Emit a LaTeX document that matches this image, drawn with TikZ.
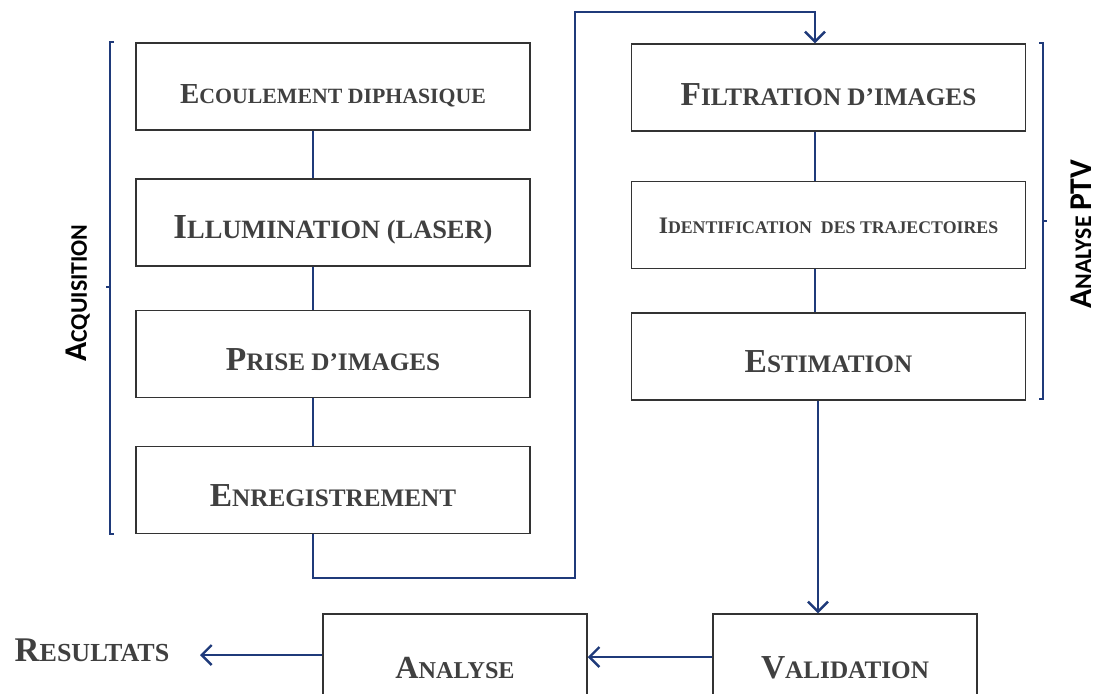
\documentclass[tikz,border=0pt]{standalone}
\usepackage{fontspec}
\setmainfont{Liberation Serif}
\newfontfamily\calibri{Carlito}
\usetikzlibrary{arrows.meta}

\definecolor{bleu}{HTML}{1F3A7A}
\definecolor{texte}{HTML}{404040}
\newcommand\Init[1]{\scalebox{1.33}{#1}}

\tikzset{
  etape/.style={draw=black!80, line width=0.75pt, fill=white, minimum width=197pt,
    minimum height=43.5pt, inner sep=0pt, text=texte, text height=16pt, text depth=0pt,
    font=\bfseries\fontsize{12.6}{15}\selectfont},
  bas/.style={etape, minimum width=132pt, minimum height=53pt, text height=11pt},
  lien/.style={draw=bleu, line width=1.2pt},
  fleche/.style={lien, -{Straight Barb[length=5pt,width=10pt]}},
  accolade/.style={draw=bleu, line width=0.9pt},
  bloc/.style={text=black, inner sep=0pt, font=\calibri\bfseries\fontsize{11.9}{14}\selectfont, rotate=90}
}

\begin{document}
\begin{tikzpicture}[x=0.5pt, y=-0.5pt]
    \useasboundingbox (0,0) rectangle (1100,693);

    % acquisition
    \node[etape, text height=17pt, font=\bfseries\fontsize{10.9}{13}\selectfont] (ecoulement) at (333,86.5) {\Init{E}COULEMENT DIPHASIQUE};
    \node[etape, font=\bfseries\fontsize{13.2}{15}\selectfont] (illumination) at (333,222.5) {\Init{I}LLUMINATION (LASER)};
    \node[etape] (prise) at (333,354) {\Init{P}RISE D’IMAGES};
    \node[etape] (enregistrement) at (333,490) {\Init{E}NREGISTREMENT};

    \draw[lien] ([xshift=-10pt]ecoulement.south) -- ([xshift=-10pt]illumination.north);
    \draw[lien] ([xshift=-10pt]illumination.south) -- ([xshift=-10pt]prise.north);
    \draw[lien] ([xshift=-10pt]prise.south) -- ([xshift=-10pt]enregistrement.north);

    \draw[accolade] (114,42) -- (110,42) -- (110,534) -- (114,534);
    \draw[accolade] (110,287) -- (106,287);
    \node[bloc] (acquisition) at (78,293) {\Init{A}CQUISITION};

    % analyse PTV
    \node[etape, text height=18pt] (filtration) at (828.5,87.5) {\Init{F}ILTRATION D’IMAGES};
    \node[etape, text height=8pt, font=\bfseries\fontsize{8.9}{11}\selectfont] (identification) at (828.5,225) {\Init{I}DENTIFICATION\ \ DES TRAJECTOIRES};
    \node[etape] (estimation) at (828.5,356.5) {\Init{E}STIMATION};

    \draw[lien] ([xshift=-6.75pt]filtration.south) -- ([xshift=-6.75pt]identification.north);
    \draw[lien] ([xshift=-6.75pt]identification.south) -- ([xshift=-6.75pt]estimation.north);

    \draw[accolade] (1039,43) -- (1043,43) -- (1043,399) -- (1039,399);
    \draw[accolade] (1043,221) -- (1047,221);
    \node[bloc] (ptv) at (1081,234) {\Init{A}NALYSE\ \Init{PTV}};

%    \draw[lien] (575,578) -- (575,12);
    \coordinate (coinbas) at (575,578);
    \coordinate (coinhaut) at (575,12);
    \draw[fleche] ([xshift=-10pt]enregistrement.south) |- (coinbas) -- (coinhaut) -| ([xshift=-6.75pt]filtration.north);

    % bas
    \node[bas] (validation) at (845,667) {\Init{V}ALIDATION};
    \node[bas, font=\bfseries\fontsize{12.1}{15}\selectfont] (analyse) at (455,667) {\Init{A}NALYSE};
    \node[text=texte, font=\bfseries\fontsize{13}{15}\selectfont] (resultats) at (92,650) {\Init{R}ESULTATS};

    \draw[fleche] ([xshift=-5.25pt]estimation.south) -- ([xshift=-5.25pt]estimation.south |- validation.north);
    \draw[fleche] ([yshift=5pt]validation.west) -- ([yshift=5pt]analyse.east);
    \coordinate (pointe) at (200,655);
    \draw[fleche] (analyse.west |- pointe) -- (pointe);

\end{tikzpicture}
\end{document}
